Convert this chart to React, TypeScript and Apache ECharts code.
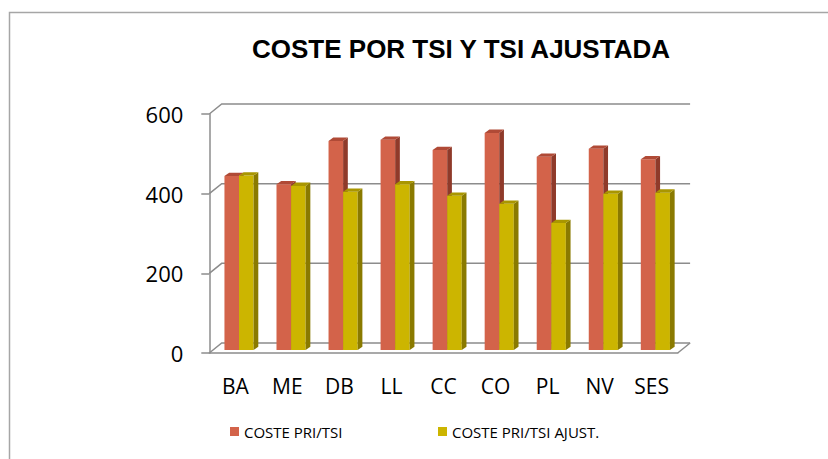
import React, { useEffect, useRef } from "react";
import * as echarts from "echarts";

const categories = ["BA", "ME", "DB", "LL", "CC", "CO", "PL", "NV", "SES"];
const costeTsi = [437, 416, 525, 528, 502, 545, 485, 505, 479];
const costeAjust = [438, 412, 397, 416, 387, 367, 319, 392, 395];
const yTicks = [0, 200, 400, 600];
const seriesNames = ["COSTE PRI/TSI", "COSTE PRI/TSI AJUST."];
const titleText = "COSTE POR TSI Y TSI AJUSTADA";

const WALL_DX = 12.4;
const WALL_DY = 10;
const BAR_SHIFT_X = 3.7;
const BAR_SHIFT_Y = 3;
const BAR_DX = 4.7;
const BAR_DY = 3.3;
const GRID_COLOR = "#8c8c8c";

const palettes = [
  { front: "#d3634a", side: "#8f3a2a", top: "#b04a36" },
  { front: "#ccb500", side: "#8a7a00", top: "#a99600" },
];

function makeBarRender(si: number) {
  return (params: any, api: any) => {
    const ci = api.value(0);
    const v = api.value(1);
    const top = api.coord([ci, v]);
    const base = api.coord([ci, 0]);
    const cw = api.size([1, 0])[0];
    const w = cw * 0.28;
    const x = base[0] - w + si * w + BAR_SHIFT_X;
    const yb = base[1] - BAR_SHIFT_Y;
    const yt = top[1] - BAR_SHIFT_Y;
    const p = palettes[si];
    return {
      type: "group",
      children: [
        { type: "rect", shape: { x, y: yt, width: w, height: yb - yt }, style: { fill: p.front } },
        {
          type: "polygon",
          shape: { points: [[x + w, yt], [x + w + BAR_DX, yt - BAR_DY], [x + w + BAR_DX, yb - BAR_DY], [x + w, yb]] },
          style: { fill: p.side },
        },
        {
          type: "polygon",
          shape: { points: [[x, yt], [x + BAR_DX, yt - BAR_DY], [x + w + BAR_DX, yt - BAR_DY], [x + w, yt]] },
          style: { fill: p.top },
        },
      ],
    };
  };
}

function wallRender(params: any, api: any) {
  const v = api.value(1);
  const y = api.coord([0, v])[1];
  const cs = params.coordSys;
  const x0 = cs.x;
  const x1 = cs.x + cs.width;
  const children: any[] = [
    {
      type: "polyline",
      shape: { points: [[x0, y], [x0 + WALL_DX, y - WALL_DY], [x1 + WALL_DX, y - WALL_DY]] },
      style: { stroke: GRID_COLOR, lineWidth: 1.5, fill: "none" },
    },
  ];
  if (v === 0) {
    children.push({
      type: "line",
      shape: { x1: x1, y1: y, x2: x1 + WALL_DX, y2: y - WALL_DY },
      style: { stroke: GRID_COLOR, lineWidth: 1.5 },
    });
  }
  return { type: "group", children };
}

export default function App() {
  const ref = useRef<HTMLDivElement>(null);
  useEffect(() => {
    if (!ref.current) return;
    const chart = echarts.init(ref.current, null, { renderer: "svg" });
    const font = "'Open Sans', 'Noto Sans', sans-serif";
    const legendBase = {
      top: 424,
      padding: 0,
      icon: "rect",
      itemWidth: 9,
      itemHeight: 9,
      itemGap: 5,
      textStyle: { fontFamily: font, fontSize: 15, color: "#000", padding: [0, 0, 0, 0] },
    };
    chart.setOption({
      animation: false,
      backgroundColor: "#ffffff",
      title: {
        text: titleText,
        left: 252,
        top: 36,
        padding: 0,
        textStyle: { fontFamily: "'Liberation Sans', Arial, sans-serif", fontWeight: "bold", fontSize: 26, color: "#000" },
      },
      graphic: [
        {
          type: "rect",
          z: -10,
          silent: true,
          shape: { x: 9.5, y: 12.5, width: 900, height: 600 },
          style: { fill: "none", stroke: "#a6a6a6", lineWidth: 1.5 },
        },
      ],
      legend: [
        { ...legendBase, data: [seriesNames[0]], left: 230 },
        { ...legendBase, data: [seriesNames[1]], left: 438 },
      ],
      grid: { left: 209.3, top: 114, width: 468.4, height: 239 },
      xAxis: {
        type: "category",
        data: categories,
        axisLine: { lineStyle: { color: GRID_COLOR, width: 1.5 } },
        axisTick: { length: 5, lineStyle: { color: GRID_COLOR, width: 1.5 } },
        axisLabel: { fontFamily: font, fontSize: 21, color: "#000", margin: 22 },
        splitLine: { show: false },
      },
      yAxis: {
        type: "value",
        min: 0,
        max: 600,
        interval: 200,
        axisLine: { show: true, lineStyle: { color: GRID_COLOR, width: 1.5 } },
        axisTick: { show: true, length: 8, lineStyle: { color: GRID_COLOR, width: 1.5 } },
        axisLabel: { fontFamily: font, fontSize: 22, color: "#000", margin: 26 },
        splitLine: { show: false },
      },
      series: [
        {
          type: "custom",
          name: "wall",
          z: 1,
          clip: false,
          silent: true,
          renderItem: wallRender,
          data: yTicks.map((v) => [0, v]),
          encode: { x: 0, y: 1 },
        },
        {
          type: "custom",
          name: seriesNames[0],
          z: 3,
          itemStyle: { color: palettes[0].front },
          renderItem: makeBarRender(0),
          data: categories.map((c, i) => [i, costeTsi[i]]),
          encode: { x: 0, y: 1 },
        },
        {
          type: "custom",
          name: seriesNames[1],
          z: 3,
          itemStyle: { color: palettes[1].front },
          renderItem: makeBarRender(1),
          data: categories.map((c, i) => [i, costeAjust[i]]),
          encode: { x: 0, y: 1 },
        },
      ],
    });
    return () => chart.dispose();
  }, []);
  return (
    <div
      ref={ref}
      style={{ position: "absolute", left: 0, top: 0, width: 828, height: 459 }}
    />
  );
}
